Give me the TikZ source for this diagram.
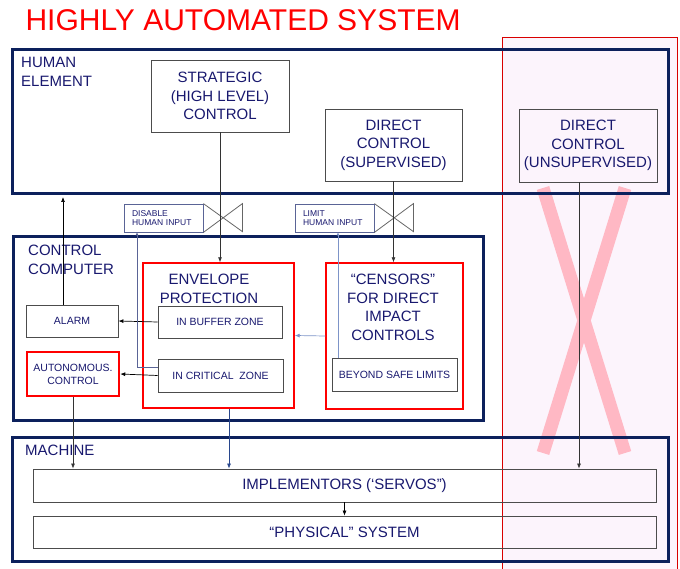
\documentclass[tikz,border=0pt]{standalone}
\usepackage{fontspec}
\setmainfont{Liberation Sans}
\usetikzlibrary{arrows.meta}
\definecolor{navy}{RGB}{12,32,92}
\definecolor{ink}{RGB}{24,24,110}
\definecolor{pinkbg}{RGB}{252,244,252}
\definecolor{xpink}{RGB}{255,184,196}
\definecolor{slate}{RGB}{90,100,150}
\definecolor{paleblue}{RGB}{125,148,200}
\definecolor{linkblue}{RGB}{40,70,140}
\begin{document}
\begin{tikzpicture}[x=1pt, y=-1pt,
    frame/.style={draw=navy, line width=3pt, minimum width=#1, inner sep=0pt},
    box/.style={draw=black!70, line width=0.8pt, text=ink, align=center, inner sep=0pt},
    redbox/.style={draw=red, line width=1.4pt, inner sep=0pt},
    valvebox/.style={draw=slate, line width=0.8pt, text=ink, align=left,
        font=\fontsize{8.5}{9}\selectfont, text width=63pt, inner xsep=8pt, minimum height=28pt},
    big/.style={font=\fontsize{15}{18.5}\selectfont, text=ink},
    small/.style={font=\fontsize{10.5}{13}\selectfont},
    arr/.style={-{Latex[length=5pt,width=4pt]}, line width=0.7pt},
    dotarr/.style={-{Latex[length=3pt,width=3pt]}, line width=0.8pt}]
    \useasboundingbox (0,0) rectangle (680,569);

    % crossed-out region
    \draw[red!85!black, line width=0.8pt, fill=pinkbg] (502,37) rectangle (677,575);
    \draw[xpink, line width=13pt] (543,188) -- (625,453) (625,188) -- (543,453);

    \node[anchor=base west, text=red, font=\fontsize{30}{30}\selectfont] (title) at (22,31) {HIGHLY AUTOMATED SYSTEM};

    % frames
    \node[frame=656, minimum height=144] (human) at (340,122) {};
    \node[frame=470, minimum height=183] (comp) at (248,328.5) {};
    \node[frame=656, minimum height=124] (machine) at (340,499) {};
    \node[big, anchor=north west, align=left, inner sep=0pt] (humanlbl) at (21,57) {HUMAN\\ELEMENT};
    \node[big, anchor=north west, align=left, inner sep=0pt] (complbl) at (28,245) {CONTROL\\COMPUTER};
    \node[big, anchor=west, inner sep=0pt] (machlbl) at (25,450) {MACHINE};

    % human element
    \node[box, big, minimum width=138, minimum height=72] (strat) at (220,96) {STRATEGIC\\(HIGH LEVEL)\\CONTROL};
    \node[box, big, minimum width=137, minimum height=72] (superv) at (393.5,145) {DIRECT\\CONTROL\\(SUPERVISED)};
    \node[box, big, minimum width=138, minimum height=73] (unsup) at (588,145.5) {DIRECT\\CONTROL\\(UNSUPERVISED)};

    % valves
    \node[valvebox] (disable) at (163.5,218) {DISABLE\\HUMAN INPUT};
    \node[valvebox] (limit) at (334.5,218) {LIMIT\\HUMAN INPUT};
    \draw[black!60, line width=0.8pt] (disable.north east) -- ++(39,28) -- ++(0,-28) -- (disable.south east);
    \draw[black!60, line width=0.8pt] (limit.north east) -- ++(39,28) -- ++(0,-28) -- (limit.south east);

    % control computer
    \node[redbox, minimum width=151, minimum height=145] (envelope) at (218.5,335.5) {};
    \node[big, align=center, inner sep=0pt] (envlbl) at (209,289) {ENVELOPE\\PROTECTION};
    \node[box, small, minimum width=124, minimum height=32] (buffer) at (220,322) {IN BUFFER ZONE};
    \node[box, small, minimum width=125, minimum height=33] (critical) at (220.5,375.5) {IN CRITICAL \ ZONE};
    \node[box, small, minimum width=92, minimum height=32] (alarm) at (72,321) {ALARM};
    \node[box, small, draw=red, line width=2.5pt, minimum width=92, minimum height=44,
        font=\fontsize{10.5}{13}\selectfont] (auton) at (73,374) {AUTONOMOUS.\\CONTROL};
    \node[redbox, minimum width=137, minimum height=146] (censors) at (394.5,336) {};
    \node[big, align=center, inner sep=0pt] (cenlbl) at (393,307.5) {“CENSORS”\\FOR DIRECT\\IMPACT\\CONTROLS};
    \node[box, small, minimum width=125, minimum height=33] (beyond) at (394.5,374.5) {BEYOND SAFE LIMITS};

    % machine
    \node[box, big, minimum width=623, minimum height=33] (impl) at (344.5,485.5) {IMPLEMENTORS (‘SERVOS”)};
    \node[box, big, minimum width=623, minimum height=32] (phys) at (344.5,532) {“PHYSICAL” SYSTEM};

    % connectors
    \draw[arr, black!80] (strat.south) -- (strat.south |- envelope.north);
    \draw[arr, black!80] (superv.south) -- (superv.south |- censors.north);
    \draw[arr, black!80] ([xshift=-9pt]unsup.south) coordinate (u) -- (u |- impl.north);
    \draw[arr, shorten >=1.5pt] ([xshift=-9pt]alarm.north) coordinate (a) -- (a |- human.south);
    \draw[arr, black!80] (auton.south) -- (auton.south |- impl.north);
    \draw[arr, linkblue] ([xshift=10.5pt]envelope.south) coordinate (e) -- (e |- impl.north);
    \draw[arr] (buffer.west) -- (alarm.east);
    \draw[arr] (critical.west) -- (auton.east);
    \draw[arr, paleblue] (censors.west) -- (envelope.east);
    \draw[dotarr, slate] ([yshift=8.5pt]critical.west) -| ([xshift=-26.5pt]disable.south);
    \draw[dotarr, paleblue] ([xshift=-56.5pt]beyond.north) coordinate (b) -- (b |- limit.south);
    \draw[arr] (impl.south) -- (phys.north);

  \end{tikzpicture}
\end{document}
